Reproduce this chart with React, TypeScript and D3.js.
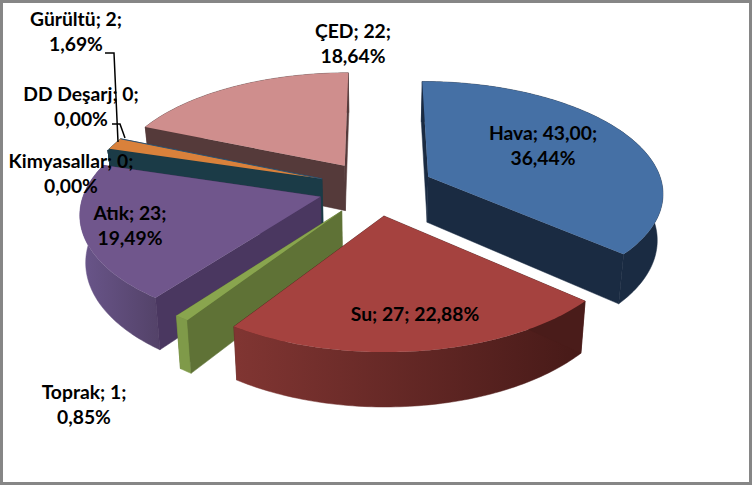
import React from 'react';
import * as d3 from 'd3';

const categories = ['Hava', 'Su', 'Toprak', 'Atık', 'Kimyasallar', 'DD Deşarj', 'Gürültü', 'ÇED'];
const values = [43, 27, 1, 23, 0, 0, 2, 22];
const valueLabels = ['43,00', '27', '1', '23', '0', '0', '2', '22'];

const topColors = ['#4570A5', '#A5423F', '#89A54E', '#70568C', '#1B3B47', '#D9813B', '#D9813B', '#CF8E8D'];
const faceColors = ['#1A2B42', '#4A1C1A', '#5F7236', '#4A3760', '#1B3B47', '#1B3B47', '#1B3B47', '#553A3A'];
const rimLeftColors = ['#1A2B42', '#803532', '#7F9A49', '#685488', '#1B3B47', '#1B3B47', '#1B3B47', '#553A3A'];
const rimRightColors = ['#1A2B42', '#471A18', '#7F9A49', '#534268', '#1B3B47', '#1B3B47', '#1B3B47', '#553A3A'];

// painter's order, far slices first
const drawOrder = [7, 4, 5, 6, 0, 3, 2, 1];

// label centre x, first line y
const labelX = [543, 415, 84, 130, 71, 81, 76, 353];
const labelY = [133, 314, 392, 213, 161, 94, 19, 31];
const oneLine = [false, true, false, false, false, false, false, false];

const leaders = [
  [[105, 53], [114, 53], [118, 142]],
  [[112, 124], [120, 124], [125, 138]]
];

const width = 752;
const height = 485;
const vx = 376;
const cy = 188;
const rx = 235;
const ry = 110.5;
const persp = 0.13;
const explode = 0.247;
const depth = 46;
const shrink = 0.98;

type Pt = [number, number];

// ground plane (X right, Y away from the viewer) to screen
const project = (X: number, Y: number, low = false): Pt => {
  const w = 1 + persp * Y;
  const sx = (rx * X) / w;
  const sy = (-ry * Y) / w;
  return low ? [vx + sx * shrink, cy + sy + depth / w] : [vx + sx, cy + sy];
};

const pie = d3.pie<number>().sort(null).value(d => d).startAngle(0).endAngle(2 * Math.PI);
const line = d3.line<Pt>();
const pctFormat = d3.format('.2f');
const total = d3.sum(values);
const percentText = (v: number) => pctFormat((v / total) * 100).replace('.', ',') + '%';

const arcs = pie(values);

const buildSlice = (i: number) => {
  const { startAngle: a0, endAngle: a1 } = arcs[i];
  const mid = (a0 + a1) / 2;
  const ox = Math.sin(mid) * explode;
  const oy = Math.cos(mid) * explode;
  const steps = Math.max(1, Math.ceil(((a1 - a0) * 180) / Math.PI));
  const angles = d3.range(steps + 1).map(s => a0 + ((a1 - a0) * s) / steps);
  const outer = (low: boolean) =>
    angles.map(a => project(ox + Math.sin(a), oy + Math.cos(a), low));
  const apexTop = project(ox, oy);
  const apexLow = project(ox, oy, true);
  const top = outer(false);
  const low = outer(true);
  return {
    topPath: line([apexTop, ...top]) + 'Z',
    rimPath: line([...top, ...low.slice().reverse()]) + 'Z',
    startFace: line([apexTop, top[0], low[0], apexLow]) + 'Z',
    endFace: line([apexTop, top[top.length - 1], low[low.length - 1], apexLow]) + 'Z',
    endEdge: line([apexTop, top[top.length - 1]]) as string,
    xMin: d3.min(low, p => p[0]) as number,
    xMax: d3.max(low, p => p[0]) as number
  };
};

const App: React.FC = () => {
  const slices = categories.map((_, i) => buildSlice(i));
  return (
    <svg
      width={width}
      height={height}
      style={{ position: 'fixed', left: 0, top: 0, background: '#fff' }}
      fontFamily="Lato, sans-serif"
      fontWeight={700}
      fontSize={19.3}
    >
      <defs>
        {slices.map((s, i) => (
          <linearGradient
            key={i}
            id={`rim${i}`}
            gradientUnits="userSpaceOnUse"
            x1={s.xMin}
            x2={s.xMax}
            y1={0}
            y2={0}
          >
            <stop offset="0" stopColor={rimLeftColors[i]} />
            <stop offset="1" stopColor={rimRightColors[i]} />
          </linearGradient>
        ))}
      </defs>
      <rect x={1.5} y={1.5} width={width - 3} height={height - 3} fill="#fff" stroke="#868686" strokeWidth={3} />

      {drawOrder.map(i => {
        const s = slices[i];
        return (
          <g key={categories[i]}>
            <path d={s.endFace} fill={faceColors[i]} stroke={faceColors[i]} strokeWidth={0.5} />
            <path d={s.rimPath} fill={`url(#rim${i})`} stroke={`url(#rim${i})`} strokeWidth={0.5} />
            <path d={s.startFace} fill={faceColors[i]} stroke={faceColors[i]} strokeWidth={0.5} />
            {values[i] > 0 && <path d={s.topPath} fill={topColors[i]} />}
            {categories[i] === 'Gürültü' && (
              <path d={s.endEdge} fill="none" stroke="#2F5272" strokeWidth={1} />
            )}
          </g>
        );
      })}

      {leaders.map((l, i) => (
        <path key={i} d={line(l as Pt[]) as string} fill="none" stroke="#000" strokeWidth={1.5} />
      ))}

      {categories.map((c, i) => {
        const first = `${c}; ${valueLabels[i]};`;
        const pct = percentText(values[i]);
        return oneLine[i] ? (
          <text key={c} x={labelX[i]} y={labelY[i]} dy="0.35em" textAnchor="middle">
            {first} {pct}
          </text>
        ) : (
          <text key={c} textAnchor="middle">
            <tspan x={labelX[i]} y={labelY[i]} dy="0.35em">{first}</tspan>
            <tspan x={labelX[i]} y={labelY[i] + 25} dy="0.35em">{pct}</tspan>
          </text>
        );
      })}
    </svg>
  );
};

export default App;
